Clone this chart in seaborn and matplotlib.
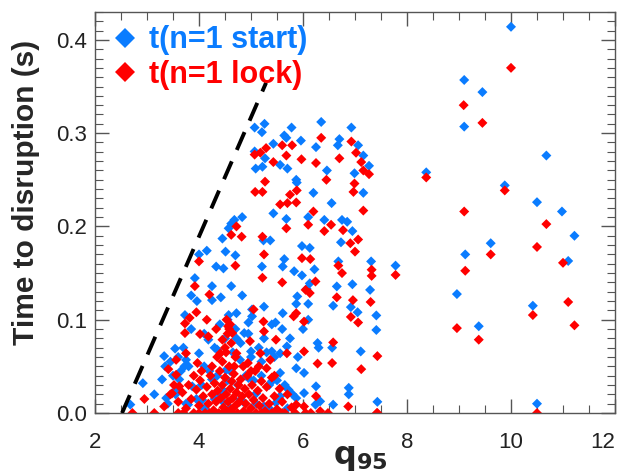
import matplotlib
matplotlib.use("Agg")
import matplotlib.pyplot as plt
import seaborn as sns
import pandas as pd
from matplotlib.ticker import MultipleLocator

# t(n=1 start): (q95, time to disruption in s)
start_pts = [
    # sparse high-q95 shots
    (10.0, 0.414), (9.10, 0.357), (9.45, 0.344), (9.10, 0.307), (10.68, 0.276),
    (8.37, 0.258), (9.88, 0.244), (10.50, 0.226), (10.98, 0.216), (11.22, 0.190),
    (9.61, 0.182), (9.12, 0.170), (11.10, 0.163), (7.78, 0.158), (8.96, 0.1275),
    (10.42, 0.115), (9.38, 0.093), (10.50, 0.010), (7.43, 0.012),
    # upper cluster
    (5.07, 0.306), (5.26, 0.310), (5.21, 0.301), (6.35, 0.312), (6.93, 0.306),
    (5.78, 0.306), (5.64, 0.2975), (5.68, 0.295), (5.96, 0.292), (6.25, 0.285),
    (6.70, 0.2936), (7.06, 0.287), (6.67, 0.287), (5.43, 0.2886), (5.07, 0.2804),
    (5.27, 0.273), (7.16, 0.276), (5.56, 0.266), (5.70, 0.262), (5.09, 0.262),
    (5.22, 0.264), (7.27, 0.265), (6.46, 0.260), (6.99, 0.257), (5.87, 0.250),
    (5.88, 0.247), (6.20, 0.236), (7.16, 0.236), (6.55, 0.225), (5.43, 0.214),
    (6.10, 0.210), (5.68, 0.208), (6.41, 0.207), (6.75, 0.207), (6.85, 0.205),
    (4.83, 0.210), (4.68, 0.207), (4.62, 0.203), (4.57, 0.198), (6.95, 0.195),
    (4.45, 0.187), (5.24, 0.185), (5.37, 0.185), (6.73, 0.183), (5.98, 0.179),
    (6.13, 0.177), (4.15, 0.174), (4.00, 0.170), (4.51, 0.173), (4.70, 0.169),
    (5.64, 0.165), (5.21, 0.157), (4.33, 0.157), (4.47, 0.155), (6.22, 0.154),
    (7.31, 0.1625), (5.61, 0.157), (5.83, 0.152), (6.68, 0.1625), (5.98, 0.1475),
    (3.92, 0.1446), (6.13, 0.139), (4.62, 0.136), (4.25, 0.136), (6.95, 0.138),
    (6.65, 0.1357), (7.29, 0.132), (6.07, 0.133), (3.85, 0.126), (4.42, 0.124),
    (4.83, 0.126), (3.96, 0.120), (4.25, 0.121), (5.89, 0.125), (5.87, 0.117),
    (6.10, 0.117), (6.58, 0.115), (5.25, 0.114), (5.02, 0.111), (6.92, 0.1135),
    (7.05, 0.108), (5.61, 0.107), (3.73, 0.105), (7.41, 0.1046), (4.57, 0.105),
    (4.72, 0.107), (5.02, 0.1036), (4.95, 0.097), (5.47, 0.097), (7.41, 0.089),
    (7.11, 0.066), (6.28, 0.075), (6.30, 0.070), (6.56, 0.070), (5.56, 0.064),
    (5.40, 0.066), (5.69, 0.0714), (3.33, 0.061), (3.54, 0.069), (3.45, 0.055),
    (3.75, 0.057), (4.00, 0.064), (4.18, 0.0786), (4.35, 0.068), (4.72, 0.080),
    (4.87, 0.0857), (5.00, 0.066), (5.20, 0.055), (5.87, 0.048), (6.02, 0.043),
    (3.29, 0.036), (2.92, 0.032), (3.14, 0.020), (2.68, 0.009), (6.25, 0.0286),
    (6.88, 0.027), (6.24, 0.009), (6.58, 0.009), (6.88, 0.020), (6.33, 0.0125),
    (6.02, 0.0214), (5.87, 0.016), (3.62, 0.036), (3.72, 0.050), (4.10, 0.050),
    (4.52, 0.046), (4.79, 0.057), (3.37, 0.016), (3.56, 0.025), (3.87, 0.0286),
    (4.25, 0.036), (5.56, 0.043), (5.40, 0.034), (4.95, 0.0375), (4.37, 0.021),
    (5.10, 0.021), (5.56, 0.018), (5.72, 0.025), (4.48, 0.011), (4.79, 0.014),
    (5.25, 0.007), (5.48, 0.011), (3.79, 0.009), (4.06, 0.014),
    # low cluster
    (3.50, 0.040), (3.65, 0.045), (3.80, 0.050), (4.05, 0.030), (4.20, 0.045),
    (4.35, 0.040), (4.45, 0.025), (4.55, 0.035), (4.60, 0.045), (4.75, 0.030),
    (4.90, 0.040), (5.05, 0.035), (5.20, 0.040), (5.35, 0.030), (5.50, 0.035),
    (5.65, 0.030), (5.80, 0.020), (3.55, 0.020), (3.75, 0.010), (3.95, 0.015),
    (4.10, 0.005), (4.30, 0.015), (4.60, 0.005), (4.85, 0.012), (5.10, 0.010),
    (5.35, 0.005), (5.55, 0.015), (5.70, 0.005), (3.40, 0.010), (3.35, 0.050),
    (3.60, 0.060), (4.30, 0.070), (4.50, 0.080), (4.65, 0.065), (4.80, 0.075),
    (5.00, 0.060), (5.15, 0.070), (5.30, 0.065), (5.45, 0.060), (4.10, 0.085),
    (3.85, 0.090), (4.40, 0.095), (4.55, 0.100), (4.70, 0.090), (4.95, 0.085),
    (5.25, 0.080), (5.40, 0.095), (5.60, 0.090), (5.75, 0.080), (5.90, 0.060),
    (6.00, 0.090), (6.10, 0.100), (3.70, 0.070),
]

# t(n=1 lock)
lock_pts = [
    (10.0, 0.370), (9.09, 0.330), (9.45, 0.311), (8.37, 0.2525), (9.88, 0.2386),
    (9.10, 0.216), (10.68, 0.2025), (10.50, 0.178), (9.61, 0.170), (11.0, 0.161),
    (9.12, 0.1525), (7.78, 0.148), (11.10, 0.119), (10.42, 0.105), (11.22, 0.094),
    (8.96, 0.091), (9.38, 0.0786), (10.50, 0.0), (7.43, 0.0), (7.43, 0.061),
    (5.07, 0.277), (5.18, 0.279), (5.29, 0.284), (5.60, 0.287), (5.79, 0.287),
    (6.35, 0.295), (6.93, 0.291), (7.02, 0.279), (5.68, 0.276), (5.97, 0.272),
    (6.25, 0.268), (6.70, 0.273), (7.12, 0.269), (5.43, 0.269), (7.16, 0.260),
    (7.27, 0.256), (6.45, 0.250), (5.27, 0.248), (6.99, 0.246), (5.08, 0.237),
    (5.22, 0.237), (5.75, 0.234), (5.88, 0.2386), (6.97, 0.237), (5.56, 0.2236),
    (5.70, 0.225), (5.87, 0.2257), (7.16, 0.217), (6.20, 0.216), (6.10, 0.2018),
    (6.54, 0.2018), (6.77, 0.196), (6.41, 0.195), (5.68, 0.198), (4.72, 0.200),
    (4.62, 0.191), (4.82, 0.189), (5.22, 0.189), (7.06, 0.186), (6.91, 0.182),
    (7.00, 0.173), (5.25, 0.170), (5.98, 0.166), (6.14, 0.165), (4.00, 0.1625),
    (4.70, 0.158), (6.68, 0.158), (7.32, 0.1536), (6.75, 0.150), (7.32, 0.147),
    (5.22, 0.145), (5.60, 0.140), (6.24, 0.141), (3.92, 0.136), (6.05, 0.132),
    (6.13, 0.1286), (4.20, 0.127), (6.65, 0.124), (6.96, 0.121), (7.30, 0.119),
    (5.05, 0.111), (3.95, 0.108), (5.87, 0.107), (3.82, 0.102), (3.73, 0.096),
    (6.92, 0.103), (7.06, 0.097), (4.15, 0.100), (4.53, 0.100), (5.24, 0.098),
    (5.82, 0.1036), (6.02, 0.098), (3.73, 0.0857), (4.33, 0.090), (4.56, 0.093),
    (4.64, 0.0857), (5.25, 0.0875), (4.02, 0.0846), (4.18, 0.082), (4.45, 0.0786),
    (4.98, 0.077), (5.48, 0.0786), (6.58, 0.0757), (6.02, 0.066), (5.69, 0.064),
    (3.56, 0.057), (3.75, 0.064), (3.97, 0.0536), (6.56, 0.0536), (6.28, 0.053),
    (3.41, 0.047), (3.56, 0.041), (7.12, 0.047), (5.37, 0.057), (4.94, 0.0536),
    (4.41, 0.064), (4.72, 0.064), (5.18, 0.064), (2.95, 0.015), (2.72, 0.0),
    (3.14, 0.0), (3.33, 0.007), (3.48, 0.021), (3.62, 0.0286), (6.25, 0.018),
    (6.87, 0.007), (6.02, 0.007), (6.33, 0.002), (6.48, 0.0), (7.42, 0.0),
    (5.87, 0.009),
    # dense low cluster
    (3.45, 0.020), (3.52, 0.030), (3.60, 0.012), (3.68, 0.022), (3.75, 0.005),
    (3.80, 0.030), (3.85, 0.015), (3.90, 0.0), (3.95, 0.025), (4.00, 0.008),
    (4.02, 0.035), (4.08, 0.018), (4.12, 0.0), (4.15, 0.028), (4.18, 0.010),
    (4.22, 0.040), (4.25, 0.020), (4.28, 0.003), (4.30, 0.032), (4.33, 0.012),
    (4.36, 0.024), (4.38, 0.0), (4.40, 0.045), (4.42, 0.016), (4.45, 0.030),
    (4.47, 0.006), (4.50, 0.038), (4.52, 0.020), (4.54, 0.0), (4.56, 0.012),
    (4.58, 0.050), (4.60, 0.026), (4.62, 0.004), (4.63, 0.034), (4.65, 0.016),
    (4.67, 0.042), (4.70, 0.008), (4.72, 0.022), (4.74, 0.0), (4.76, 0.030),
    (4.78, 0.012), (4.80, 0.036), (4.83, 0.018), (4.86, 0.002), (4.88, 0.026),
    (4.90, 0.010), (4.93, 0.040), (4.96, 0.020), (5.00, 0.005), (5.02, 0.030),
    (5.05, 0.014), (5.08, 0.045), (5.10, 0.0), (5.13, 0.024), (5.16, 0.008),
    (5.20, 0.034), (5.23, 0.016), (5.27, 0.002), (5.30, 0.028), (5.35, 0.010),
    (5.40, 0.038), (5.45, 0.018), (5.50, 0.004), (5.55, 0.026), (5.60, 0.012),
    (5.65, 0.0), (5.70, 0.020), (5.78, 0.006), (4.35, 0.060), (4.50, 0.070),
    (4.55, 0.085), (4.60, 0.095), (4.62, 0.075), (4.45, 0.055), (4.70, 0.060),
    (4.68, 0.050), (4.52, 0.065), (4.58, 0.090), (4.25, 0.050), (4.05, 0.045),
    (3.90, 0.040), (4.85, 0.050), (5.00, 0.045), (5.15, 0.050), (5.30, 0.048),
    (5.45, 0.040), (3.60, 0.0), (3.70, 0.0), (4.00, 0.0), (4.20, 0.0),
    (4.45, 0.0), (4.65, 0.0), (4.85, 0.0), (4.95, 0.0), (5.20, 0.0),
    (5.40, 0.0), (5.60, 0.0), (5.85, 0.0), (6.05, 0.0), (6.15, 0.0),
]

# dashed boundary line
line_q = [2.52, 5.29]
line_t = [0.0, 0.354]

labels = ["t(n=1 start)", "t(n=1 lock)"]
colors = ["#0a7cff", "#ff0000"]
x_ticks = [2, 4, 6, 8, 10, 12]

df = pd.concat([
    pd.DataFrame(start_pts, columns=["q95", "t"]).assign(series=labels[0]),
    pd.DataFrame(lock_pts, columns=["q95", "t"]).assign(series=labels[1]),
], ignore_index=True)

sns.set_style("ticks")
plt.rcParams["font.family"] = ["Liberation Sans", "DejaVu Sans"]

fig = plt.figure(figsize=(6.25, 4.75), dpi=100)
ax = fig.add_axes([0.152, 0.1305, 0.832, 0.8445])

sns.scatterplot(data=df, x="q95", y="t", hue="series", palette=dict(zip(labels, colors)),
                marker="D", s=26, linewidth=0, ax=ax)
ax.plot(line_q, line_t, color="black", lw=2.8, dashes=(5, 3.2), zorder=5)

ax.set_xlim(2, 12)
ax.set_ylim(0, 0.43)
xt = ax.set_xticks(x_ticks, labels=[str(v) for v in x_ticks])
xt[-1].label1.set_horizontalalignment("right")  # keep "12" inside the figure
ax.xaxis.set_minor_locator(MultipleLocator(0.5))
ax.yaxis.set_major_locator(MultipleLocator(0.1))
ax.yaxis.set_minor_locator(MultipleLocator(0.01))
ax.yaxis.set_major_formatter(plt.FuncFormatter(lambda v, p: f"{v:.1f}"))
ax.tick_params(which="both", direction="in", top=True, right=True, color="#555555",
               labelsize=16, labelcolor="#222222")
ax.tick_params(which="major", length=10, width=1)
ax.tick_params(which="minor", length=6, width=0.8)
ax.tick_params(axis="x", which="major", pad=14)
ax.tick_params(axis="y", which="major", pad=6)
for sp in ax.spines.values():
    sp.set_color("#555555")
    sp.set_linewidth(1)

ax.set_xlabel(r"$\mathbf{q}_{\mathbf{95}}$", fontsize=23)
ax.xaxis.set_label_coords(0.51, -0.075)
ax.set_ylabel("Time to disruption (s)", fontsize=21.5, fontweight="bold")
ax.yaxis.set_label_coords(-0.105, 0.55)

leg = ax.legend(loc="upper left", bbox_to_anchor=(-0.025, 1.035), frameon=False,
                markerscale=1.9, handletextpad=0.3, labelspacing=0.15, handlelength=1.0,
                prop={"size": 22, "weight": "bold"})
for txt, c in zip(leg.get_texts(), colors):
    txt.set_color(c)

fig.savefig("out.png", dpi=100)
